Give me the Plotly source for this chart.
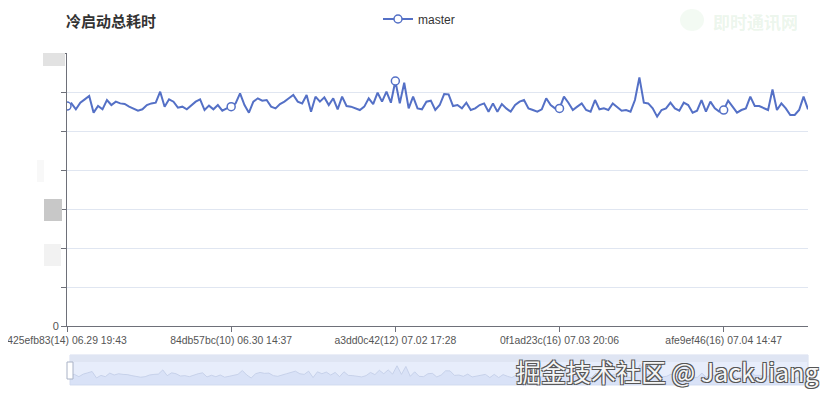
import plotly.graph_objects as go

# ---------------- data ----------------
chart_title = "冷启动总耗时"
series_name = "master"
tick_indices = [0, 37, 74, 111, 148]
tick_labels = [
    "425efb83(14) 06.29 19:43",
    "84db57bc(10) 06.30 14:37",
    "a3dd0c42(12) 07.02 17:28",
    "0f1ad23c(16) 07.03 20:06",
    "afe9ef46(16) 07.04 14:47",
]
values = [
    2820, 2854, 2778, 2863, 2906, 2949, 2735, 2820, 2778, 2897,
    2833, 2876, 2854, 2846, 2812, 2790, 2760, 2778, 2833, 2854,
    2863, 3004, 2812, 2906, 2876, 2799, 2812, 2778, 2833, 2876,
    2906, 2769, 2825, 2778, 2833, 2760, 2790, 2812, 2854, 2983,
    2833, 2735, 2876, 2919, 2889, 2897, 2812, 2790, 2846, 2876,
    2919, 2961, 2876, 2854, 2961, 2748, 2940, 2876, 2931, 2833,
    2919, 2778, 2940, 2820, 2812, 2790, 2769, 2812, 2919, 2846,
    2991, 2876, 3004, 2863, 3141, 2854, 3119, 2790, 2940, 2790,
    2778, 2876, 2889, 2769, 2833, 2974, 2970, 2820, 2833, 2790,
    2863, 2769, 2790, 2833, 2854, 2748, 2854, 2748, 2846, 2790,
    2748, 2833, 2876, 2897, 2790, 2769, 2748, 2778, 2919, 2833,
    2790, 2790, 2940, 2863, 2769, 2812, 2854, 2769, 2748, 2897,
    2778, 2790, 2769, 2854, 2812, 2760, 2769, 2748, 2897, 3188,
    2863, 2854, 2790, 2684, 2769, 2790, 2863, 2790, 2760, 2863,
    2833, 2735, 2760, 2897, 2748, 2876, 2790, 2748, 2769, 2889,
    2812, 2735, 2769, 2790, 2940, 2820, 2820, 2790, 2769, 3034,
    2769, 2854, 2790, 2705, 2705, 2769, 2940, 2778,
]
y_tick_values = [0, 500, 1000, 1500, 2000, 2500, 3000, 3500]
y_tick_text = ["0", "", "", "", "", "", "", ""]
watermark_bottom = "掘金技术社区 @ JackJiang"
watermark_top = "即时通讯网"

idx = list(range(len(values)))

LINE = "#5470c6"
AXIS = "#6e7079"
GRID = "#e0e6f1"

# page body has an 8px default margin -> figure sits 8px right/down
OFF = 8
W, H = 834 - 2 * OFF, 402 - 2 * OFF
ML = 67 - OFF
MR = W - (808 - OFF)
MT = 40 - OFF
MB = H - (386 - OFF)
PW = W - ML - MR
PH = H - MT - MB


def px_x(sx):  # screen x -> paper fraction
    return (sx - 67) / PW


def px_y(sy):  # screen y -> paper fraction
    return 1 - (sy - 40) / PH


fig = go.Figure()

# main series
fig.add_trace(go.Scatter(
    x=idx, y=values, name=series_name, mode="lines+markers",
    line=dict(color=LINE, width=2),
    marker=dict(symbol="circle", size=8, color="white",
                line=dict(color=LINE, width=1.5)),
    selectedpoints=tick_indices,
    selected=dict(marker=dict(opacity=1)),
    unselected=dict(marker=dict(opacity=0)),
    xaxis="x", yaxis="y",
))

# data-zoom shadow
fig.add_trace(go.Scatter(
    x=idx, y=values, mode="lines", showlegend=False,
    fill="tozeroy", fillcolor="rgba(200,212,242,0.45)",
    line=dict(color="#c0cbe6", width=0.8),
    hoverinfo="skip", xaxis="x2", yaxis="y2",
))

shapes = [
    # slider background
    dict(type="rect", xref="x2 domain", yref="y2 domain", x0=0, x1=1, y0=0, y1=1,
         fillcolor="#e7edfb", line=dict(color="#d6ddef", width=1), layer="below"),
    dict(type="rect", xref="x2 domain", yref="y2 domain", x0=0, x1=1,
         y0=(385 - 362) / 30, y1=1,
         fillcolor="#dfe5f3", line=dict(width=0), layer="below"),
    # slider handle
    dict(type="rect", xref="x2 domain", yref="y2 domain",
         xsizemode="pixel", xanchor=0, x0=-3, x1=3,
         y0=(385 - 379) / 30, y1=(385 - 362) / 30,
         fillcolor="white", line=dict(color="#a9b2c6", width=1)),
    # redaction blocks over y tick labels
    dict(type="rect", xref="paper", yref="y", xsizemode="pixel", ysizemode="pixel",
         xanchor=0, x0=-24, x1=-2, yanchor=3500, y0=-13, y1=9,
         fillcolor="#e2e2e2", line=dict(width=0)),
    dict(type="rect", xref="paper", yref="y", xsizemode="pixel", ysizemode="pixel",
         xanchor=0, x0=-23, x1=-5, yanchor=1500, y0=-12, y1=10,
         fillcolor="#c8c8c8", line=dict(width=0)),
    dict(type="rect", xref="paper", yref="y", xsizemode="pixel", ysizemode="pixel",
         xanchor=0, x0=-23, x1=-6, yanchor=1000, y0=-18, y1=4,
         fillcolor="#f2f2f2", line=dict(width=0)),
    dict(type="rect", xref="paper", yref="y", xsizemode="pixel", ysizemode="pixel",
         xanchor=0, x0=-30, x1=-23, yanchor=2000, y0=-12, y1=10,
         fillcolor="#f8f8f8", line=dict(width=0)),
    # faint logo of top watermark
    dict(type="circle", xref="paper", yref="paper", xsizemode="pixel", ysizemode="pixel",
         xanchor=px_x(692), x0=-12, x1=12,
         yanchor=px_y(20), y0=-11, y1=11,
         fillcolor="rgba(160,215,160,0.13)", line=dict(width=0)),
]

annotations = [
    dict(text=watermark_bottom, xref="paper", yref="paper",
         x=px_x(821), xanchor="right", y=px_y(371), yanchor="middle",
         showarrow=False,
         font=dict(family="Noto Sans CJK SC", size=25, color="#f6f6f6",
                   shadow="1px 1px 0 #555, -1px -1px 0 #555, 1px -1px 0 #555, -1px 1px 0 #555")),
    dict(text=watermark_top, xref="paper", yref="paper",
         x=px_x(755), xanchor="center", y=px_y(22), yanchor="middle",
         showarrow=False, borderpad=0,
         font=dict(family="Noto Sans CJK SC", size=17, color="rgba(140,200,140,0.18)",
                   weight="bold")),
]

fig.update_layout(
    width=W, height=H,
    margin=dict(l=ML, r=MR, t=MT, b=MB, autoexpand=False),
    paper_bgcolor="white", plot_bgcolor="white",
    title=dict(text=chart_title, xref="container", x=(66 - OFF) / W, xanchor="left",
               yref="container", y=1 - (22 - OFF) / H, yanchor="middle",
               font=dict(family="Noto Sans CJK SC", size=15, color="#333", weight="bold")),
    showlegend=True,
    legend=dict(orientation="h", xref="container", yref="container",
                x=(386 - 2 * OFF) / W, xanchor="left", y=1 - (19 - OFF) / H, yanchor="middle",
                font=dict(family="Liberation Sans", size=12, color="#333"),
                itemwidth=30, bgcolor="rgba(0,0,0,0)"),
    xaxis=dict(domain=[0, 1], range=[0, len(values) - 1], anchor="y", automargin=False,
               tickmode="array", tickvals=tick_indices, ticktext=tick_labels,
               ticklabeloverflow="allow",
               showgrid=False, zeroline=False, showline=True, linecolor=AXIS, linewidth=1,
               ticks="outside", ticklen=5, tickcolor=AXIS,
               tickfont=dict(family="Liberation Sans", size=10.4, color="#555")),
    yaxis=dict(domain=[px_y(326), px_y(53)], range=[0, 3500], anchor="x", automargin=False,
               tickmode="array", tickvals=y_tick_values, ticktext=y_tick_text,
               showgrid=True, gridcolor=GRID, gridwidth=1, zeroline=False,
               showline=True, linecolor=AXIS, linewidth=1,
               ticks="outside", ticklen=5, tickcolor=AXIS,
               tickfont=dict(family="Liberation Sans", size=11, color="#555")),
    xaxis2=dict(domain=[px_x(70), 1], range=[0, len(values) - 1],
                anchor="y2", visible=False, automargin=False),
    yaxis2=dict(domain=[px_y(385), px_y(355)], range=[2500, 3500], anchor="x2",
                visible=False, automargin=False),
    shapes=shapes,
    annotations=annotations,
    hovermode="x",
)

fig.write_html("out.html")
